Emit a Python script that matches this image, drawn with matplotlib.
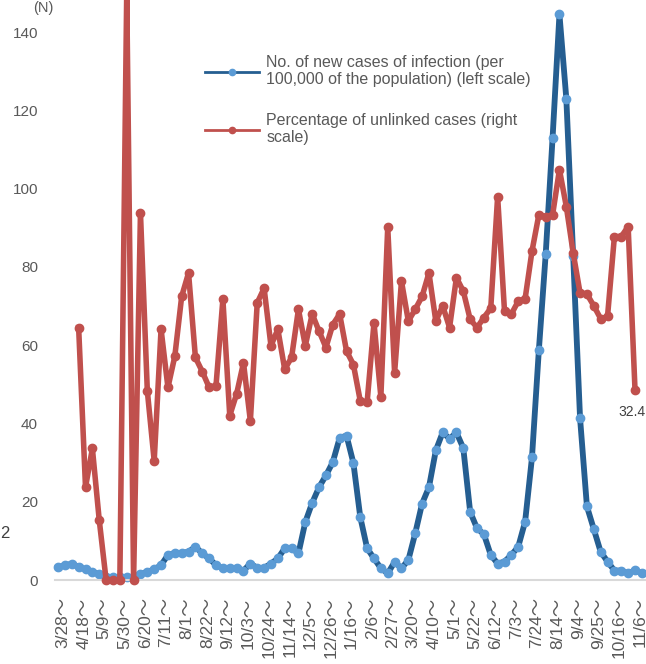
import numpy as np
import matplotlib.pyplot as plt
from matplotlib.lines import Line2D
from matplotlib.transforms import ScaledTranslation

# Etiquetas del eje x (cada 3 semanas)
etiquetas = ["3/28", "4/18", "5/9", "5/30", "6/20", "7/11", "8/1", "8/22", "9/12",
             "10/3", "10/24", "11/14", "12/5", "12/26", "1/16", "2/6", "2/27", "3/20",
             "4/10", "5/1", "5/22", "6/12", "7/3", "7/24", "8/14", "9/4", "9/25",
             "10/16", "11/6"]

# Nuevos casos por 100.000 habitantes (escala izquierda), semanal desde 3/28
casos_nuevos = [3.2, 3.8, 4.1, 3.4, 2.7, 2.1, 1.5, 0.8, 0.7, 0.7,
                0.8, 0.8, 1.5, 2.1, 2.7, 3.8, 6.4, 6.9, 6.9, 7.2,
                8.5, 6.8, 5.5, 3.8, 3.0, 3.0, 3.1, 2.4, 4.2, 3.1,
                3.1, 4.2, 5.5, 8.1, 8.1, 6.8, 14.8, 19.7, 23.7, 26.7,
                30.1, 36.3, 36.9, 29.9, 16.1, 8.1, 5.5, 3.0, 1.7, 4.6,
                3.0, 5.1, 11.9, 19.5, 23.7, 33.1, 37.7, 36.1, 37.7, 33.7,
                17.4, 13.2, 11.7, 6.4, 4.2, 4.7, 6.4, 8.5, 14.9, 31.3,
                58.7, 83.3, 113.0, 144.5, 123.0, 82.7, 41.3, 18.8, 13.0, 7.2,
                4.7, 2.4, 2.4, 1.7, 2.5, 1.7]

# Porcentaje de casos no vinculados (escala derecha), desde la semana 4/18
inicio_no_vinculados = 3
pct_no_vinculados = [43.0, 15.8, 22.4, 10.2, 0, 0, 0, 100, 0, 62.5,
                     32.2, 20.3, 42.7, 32.8, 38.1, 48.3, 52.3, 37.9, 35.5, 32.8,
                     33.1, 47.8, 28.0, 31.7, 37.0, 27.1, 47.2, 49.7, 39.9, 42.7,
                     35.9, 37.9, 46.1, 39.9, 45.3, 42.4, 39.6, 43.5, 45.3, 39.0,
                     36.7, 30.5, 30.3, 43.8, 31.2, 60.1, 35.3, 50.9, 44.1, 46.1,
                     48.3, 52.3, 44.1, 46.7, 43.0, 51.5, 49.2, 44.4, 43.0, 44.7,
                     46.3, 65.3, 45.8, 45.3, 47.5, 47.9, 56.0, 62.2, 61.9, 62.2,
                     69.9, 63.6, 55.7, 48.9, 48.7, 46.7, 44.5, 44.9, 58.5, 58.5,
                     60.2, 32.4]

azul = "#255E91"
azul_claro = "#5B9BD5"
rojo = "#C0504D"
gris = "#595959"
fuente = ["Liberation Sans", "Noto Sans CJK JP"]

x_casos = np.arange(len(casos_nuevos))
x_pct = np.arange(inicio_no_vinculados, inicio_no_vinculados + len(pct_no_vinculados))

#%%
fig = plt.figure(figsize=(6.46, 6.64), dpi=100)
ax = fig.add_axes([54.6 / 646, 84 / 664, (646 - 54.6) / 646, 587.1 / 664])

ax.plot(x_casos, casos_nuevos, color=azul, lw=4.2, marker="o", ms=6,
        mfc=azul_claro, mec=azul_claro, solid_joinstyle="round", clip_on=False)
ax.set_xlim(-0.5, 85.6)
ax.set_ylim(0, 150)

ax2 = ax.twinx()
ax2.plot(x_pct, pct_no_vinculados, color=rojo, lw=4.0, marker="o", ms=6,
         solid_joinstyle="round", clip_on=False)
ax2.set_ylim(0, 100)
ax2.axis("off")
ax2.annotate("32.4", xy=(x_pct[-1], pct_no_vinculados[-1]), xytext=(-2.5, -11),
             textcoords="offset points", ha="center", va="top",
             fontsize=10, color="#404040", family=fuente)

# Ejes
for lado in ["top", "right", "left"]:
    ax.spines[lado].set_visible(False)
ax.spines["bottom"].set_color("#D9D9D9")
ax.spines["bottom"].set_linewidth(1.5)

ax.set_yticks(range(0, 141, 20))
ax.tick_params(axis="y", length=0, pad=12, labelsize=11, labelcolor=gris)
ax.set_xticks(np.arange(0, 85, 3))
ax.set_xticklabels([e + "～" for e in etiquetas], rotation=90, family=fuente)
ax.tick_params(axis="x", length=0, pad=12.5, labelsize=12.5, labelcolor=gris)
desplazamiento = ScaledTranslation(5 / 100, 0, fig.dpi_scale_trans)
for t in ax.get_xticklabels():
    t.set_transform(t.get_transform() + desplazamiento)
for t in ax.get_yticklabels():
    t.set_family(fuente)

fig.text(43 / 646, 1 - 8 / 664, "(N)", ha="center", va="center",
         fontsize=10.5, color=gris, family=fuente)
fig.text(0, 1 - 533 / 664, "2", ha="left", va="center",
         fontsize=12, color="#404040", family=fuente)

# Leyenda
h1 = Line2D([], [], color=azul, lw=2, marker="o", ms=4.5, mfc=azul_claro, mec=azul_claro)
h2 = Line2D([], [], color=rojo, lw=2, marker="o", ms=4.5)
fig.legend([h1, h2],
           ["No. of new cases of infection (per\n100,000 of the population) (left scale)",
            "Percentage of unlinked cases (right\nscale)"],
           loc="upper left", bbox_to_anchor=(205 / 646, 1 - 55 / 664), frameon=False,
           handlelength=3.4, handletextpad=0.45, labelspacing=1.6, borderpad=0,
           borderaxespad=0, labelcolor=gris, prop={"family": fuente, "size": 11.5})

fig.savefig("out.png", dpi=100)
